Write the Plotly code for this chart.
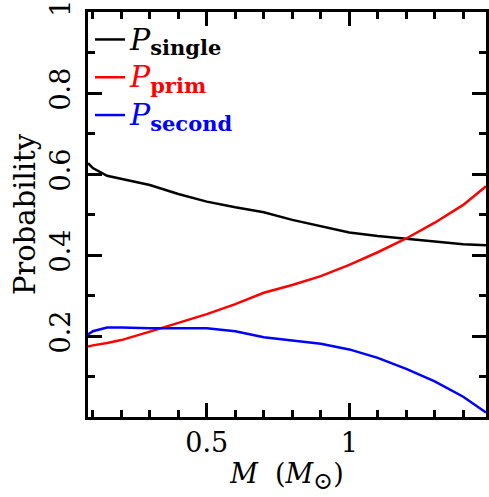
import plotly.graph_objects as go

mass = [0.083, 0.1, 0.15, 0.2, 0.3, 0.4, 0.5, 0.6, 0.7, 0.8, 0.9, 1.0, 1.1, 1.2, 1.3, 1.4, 1.48]
p_single = [0.627, 0.615, 0.596, 0.588, 0.573, 0.551, 0.532, 0.518, 0.506, 0.487, 0.472, 0.456, 0.447, 0.440, 0.433, 0.427, 0.424]
p_prim = [0.174, 0.177, 0.183, 0.190, 0.211, 0.232, 0.254, 0.279, 0.307, 0.326, 0.348, 0.376, 0.407, 0.441, 0.480, 0.524, 0.570]
p_second = [0.204, 0.212, 0.221, 0.221, 0.219, 0.219, 0.219, 0.212, 0.197, 0.189, 0.181, 0.167, 0.146, 0.119, 0.088, 0.050, 0.011]

y_tickvals = [0, 0.2, 0.4, 0.6, 0.8, 1.0]
y_ticktext = ["", "0.2", "0.4", "0.6", "0.8", "1"]
x_tickvals = [0.5, 1.0]
x_ticktext = ["0.5", "1"]

FONT = "DejaVu Serif"

def lab(sub, color):
    return (f'<span style="color:{color}"><span style="font-size:30px"><i>P</i></span>'
            f'<sub><b><span style="font-size:21px">{sub}</span></b></sub></span>')

fig = go.Figure()
series = [("single", p_single, "black"), ("prim", p_prim, "red"), ("second", p_second, "blue")]
for i, (name, vals, col) in enumerate(series):
    fig.add_trace(go.Scatter(x=mass, y=vals, mode="lines", name=lab(name, col),
                             legendgroup=f"g{i}",
                             line=dict(color=col, width=2.5), showlegend=True))

axis_common = dict(showline=True, linecolor="black", linewidth=2.5, mirror="ticks",
                   ticks="inside", ticklen=14, tickwidth=2.5, tickcolor="black",
                   showgrid=False, zeroline=False,
                   tickfont=dict(family=FONT, size=27, color="black"))

fig.update_xaxes(range=[0.083, 1.48], tickmode="array", tickvals=x_tickvals, ticktext=x_ticktext,
                 minor=dict(dtick=0.1, tick0=0, ticks="inside", ticklen=7, tickwidth=2.5, tickcolor="black"),
                 title=dict(text="<i>M</i>  (<i>M</i><sub><span style=\"font-size:24px\">⊙</span></sub>)",
                            font=dict(family=FONT, size=27, color="black"), standoff=2),
                 **axis_common)
fig.update_yaxes(range=[0, 1.0005], tickmode="array", tickvals=y_tickvals, ticktext=y_ticktext, tickangle=-90,
                 ticklabeloverflow="allow", ticklabelstandoff=4,
                 minor=dict(dtick=0.1, tick0=0, ticks="inside", ticklen=7, tickwidth=2.5, tickcolor="black"),
                 title=dict(text="Probability", font=dict(family=FONT, size=29, color="black"), standoff=2),
                 **axis_common)

fig.update_layout(width=489, height=497, margin=dict(l=88, r=0, t=10, b=80),
                  plot_bgcolor="white", paper_bgcolor="white",
                  legend=dict(x=0.005, y=0.99, xanchor="left", yanchor="top", bgcolor="rgba(0,0,0,0)",
                              borderwidth=0, tracegroupgap=1, font=dict(family=FONT, size=26)),
                  font=dict(family=FONT))

fig.write_html("out.html", config={"displayModeBar": False},
               post_script="document.body.style.margin='0';document.body.style.padding='0';")
